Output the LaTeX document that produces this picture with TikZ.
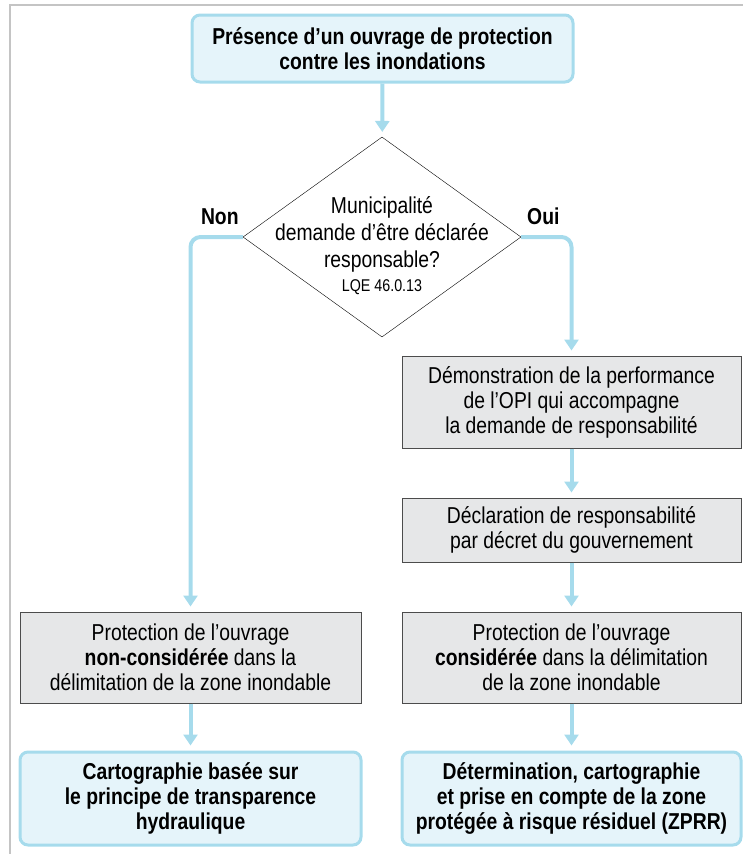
\documentclass[tikz,border=0pt]{standalone}
\usepackage{fontspec}
\setmainfont{Liberation Sans}[FakeStretch=0.84]
\usepackage{tikz}
\usetikzlibrary{shapes.geometric,arrows.meta}
\definecolor{flowblue}{HTML}{A6DBEC}
\definecolor{boxblue}{HTML}{E5F4FA}
\definecolor{boxgray}{HTML}{E6E7E8}
\definecolor{framegray}{HTML}{C4C4C4}
\tikzset{every node/.style={font=\fontsize{23}{25}\selectfont,align=center},
  bluebox/.style={draw=flowblue,line width=3pt,fill=boxblue,rounded corners=8pt,
    font=\fontsize{23}{25}\selectfont\bfseries},
  graybox/.style={draw=black!70,line width=1pt,fill=boxgray},
  flow/.style={draw=flowblue,line width=4pt,-{Triangle[width=14pt,length=11pt]},shorten >=5pt},
  label/.style={font=\fontsize{23}{25}\selectfont\bfseries}}

\begin{document}
\begin{tikzpicture}[x=1pt,y=-1pt]
    \useasboundingbox (0,0) rectangle (743,854);
    \draw[framegray,line width=2pt] (10,854) -- (10,5) -- (743,5);

    \node[bluebox,minimum width=381pt,minimum height=67pt] (1) at (382.5,48.5)
        {Présence d’un ouvrage de protection\\contre les inondations};
    \node[diamond,draw,thin,minimum width=278pt,minimum height=200pt,inner sep=0pt] (2) at (382,237) {};
    \node[font=\fontsize{23}{27}\selectfont] (2t) at (382,246)
        {Municipalité\\demande d’être déclarée\\responsable?\\[-3pt]{\fontsize{17}{18}\selectfont LQE 46.0.13}};
    \node[graybox,minimum width=339pt,minimum height=92pt] (3) at (571.5,402)
        {Démonstration de la performance\\de l’OPI qui accompagne\\la demande de responsabilité};
    \node[graybox,minimum width=339pt,minimum height=64pt] (4) at (571.5,530)
        {Déclaration de responsabilité\\par décret du gouvernement};
    \node[graybox,minimum width=341pt,minimum height=91pt] (5) at (190.5,657.5)
        {Protection de l’ouvrage\\\textbf{non-considérée} dans la\\délimitation de la zone inondable};
    \node[graybox,minimum width=339pt,minimum height=91pt] (6) at (571.5,657.5)
        {Protection de l’ouvrage\\\textbf{considérée} dans la délimitation\\de la zone inondable};
    \node[bluebox,minimum width=341pt,minimum height=93pt] (7) at (190.5,798.5)
        {Cartographie basée sur\\le principe de transparence\\hydraulique};
    \node[bluebox,minimum width=339pt,minimum height=93pt] (8) at (571.5,798.5)
        {Détermination, cartographie\\et prise en compte de la zone\\protégée à risque résiduel (ZPRR)};

    \path[flow] (1) -- (2);
    \path[flow,rounded corners=10pt] (2.west) -| node[label,pos=0.22,above=7pt] {Non} (5.north);
    \path[flow,rounded corners=10pt] (2.east) -| node[label,pos=0.22,above=7pt] {Oui} (3.north);
    \path[flow] (3) -- (4);
    \path[flow] (4) -- (6);
    \path[flow] (5) -- (7);
    \path[flow] (6) -- (8);
\end{tikzpicture}
\end{document}
